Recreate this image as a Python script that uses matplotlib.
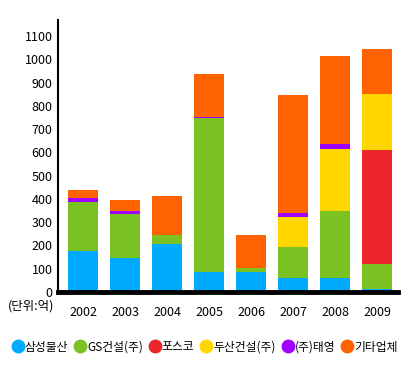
import numpy as np
import matplotlib
matplotlib.use('Agg')
import matplotlib.pyplot as plt
from matplotlib.lines import Line2D

plt.rcParams['font.family'] = ['Noto Sans CJK KR', 'DejaVu Sans']

# data (단위: 억)
years = ['2002', '2003', '2004', '2005', '2006', '2007', '2008', '2009']
companies = ['삼성물산', 'GS건설(주)', '포스코', '두산건설(주)', '(주)태영', '기타업체']
samsung = [177, 148, 208, 87, 87, 62, 62, 13]
gs = [208, 189, 38, 659, 18, 132, 284, 109]
posco = [0, 0, 0, 0, 0, 0, 0, 490]
doosan = [0, 0, 0, 0, 0, 129, 270, 237]
taeyoung = [20, 12, 0, 8, 0, 15, 18, 0]
others = [35, 48, 168, 181, 141, 507, 379, 194]
colors = ['#00aaff', '#7bc122', '#ed252d', '#ffd600', '#a000ff', '#ff6200']

series = [samsung, gs, posco, doosan, taeyoung, others]

fig = plt.figure(figsize=(4.07, 3.77), dpi=100)
ax = fig.add_axes([58/407, 1-292/377, 340/407, 272/377])

x = np.arange(len(years))
bottom = np.zeros(len(years))
for vals, c in zip(series, colors):
    ax.bar(x, vals, width=0.71, bottom=bottom, color=c, linewidth=0)
    bottom += np.array(vals)

ax.set_xlim(-0.6, 7.5)
ax.set_ylim(0, 1169)
ax.set_yticks(range(0, 1101, 100))
ax.set_xticks(x)
ax.set_xticklabels(years)
ax.tick_params(length=0, labelsize=9, colors='black')
ax.tick_params(axis='y', pad=4)
ax.tick_params(axis='x', pad=10)
for s in ['top', 'right']:
    ax.spines[s].set_visible(False)
ax.spines['left'].set_linewidth(1.5)
ax.spines['bottom'].set_linewidth(3.5)

fig.text(8/407, 1-306/377, '(단위:억)', fontsize=9, va='center', ha='left')

handles = [Line2D([], [], marker='o', linestyle='', markersize=9, color=c) for c in colors]
fig.legend(handles, companies, loc='center', bbox_to_anchor=(205/407, 1-347/377), ncol=6,
           frameon=False, fontsize=8.5, handletextpad=0.15, columnspacing=0.55,
           handlelength=0.9, borderaxespad=0)

fig.savefig('out.png', dpi=100)
